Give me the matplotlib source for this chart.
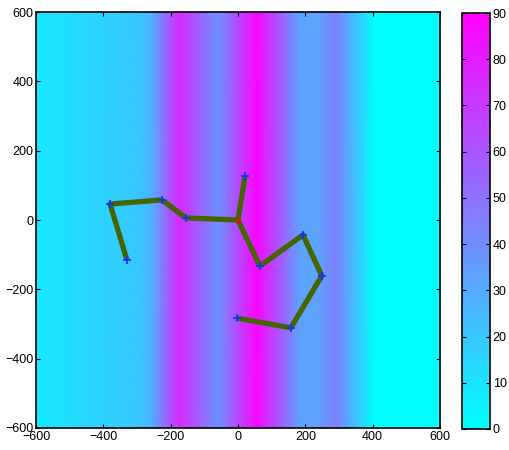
import numpy as np
import matplotlib
matplotlib.use("Agg")
import matplotlib.pyplot as plt

plt.rcParams['font.family'] = ['Liberation Sans', 'DejaVu Sans']

# background field: value at sample columns along x (constant along y)
field_x = [-600, -300, -260, -175, -60, 55, 185, 240, 290, 405, 600]
field_v = [8, 20, 26, 76, 38, 88, 32, 33, 45, 0, 0]

# chain of joints, three arms from the origin
arm1_x = [0, -155, -226, -380, -330]
arm1_y = [0, 6, 58, 46, -115]
arm2_x = [0, 21]
arm2_y = [0, 127]
arm3_x = [0, 65, 193, 249, 157, -3]
arm3_y = [0, -133, -43, -161, -311, -283]

ticks = [-600, -400, -200, 0, 200, 400, 600]
cbar_ticks = [0, 10, 20, 30, 40, 50, 60, 70, 80, 90]

fig = plt.figure(figsize=(5.1, 4.5), dpi=100)
ax = fig.add_axes([0.0706, 0.0489, 0.7921, 0.9244])
cax = fig.add_axes([0.9059, 0.0467, 0.0549, 0.9244])

X, Y = np.meshgrid(field_x, [-600, 600])
C = np.vstack([field_v, field_v])
mesh = ax.pcolormesh(X, Y, C, cmap='cool', vmin=0, vmax=90, shading='gouraud')

for xs, ys in [(arm1_x, arm1_y), (arm2_x, arm2_y), (arm3_x, arm3_y)]:
    ax.plot(xs, ys, color='#466400', linewidth=3.8, solid_capstyle='butt')
    ax.plot(xs[1:], ys[1:], '+', color='#1030ff', markersize=6, markeredgewidth=1.2)
ax.plot([0], [0], '+', color='red', markersize=5, markeredgewidth=1)

ax.set_xlim(-600, 600)
ax.set_ylim(-600, 600)
ax.set_xticks(ticks)
ax.set_yticks(ticks)
ax.tick_params(direction='in', top=True, right=True, labelsize=9, length=3, pad=2)
for s in ax.spines.values():
    s.set_linewidth(1.2)

cb = fig.colorbar(mesh, cax=cax, ticks=cbar_ticks)
cb.ax.tick_params(direction='in', left=True, right=True, labelsize=9, length=3, pad=2)
cb.outline.set_linewidth(1.2)

fig.savefig("out.png", dpi=100)
